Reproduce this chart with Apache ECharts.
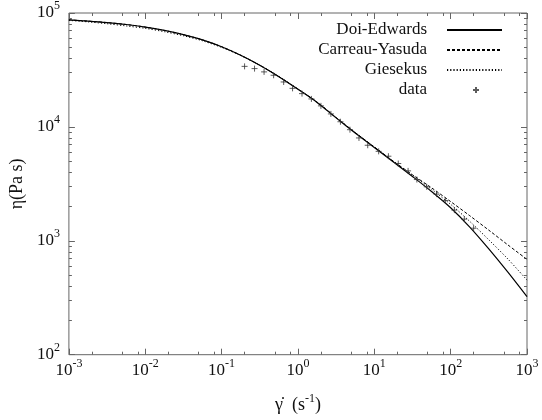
<!DOCTYPE html>
<html><head><meta charset="utf-8">
<script src="https://cdn.jsdelivr.net/npm/echarts@6/dist/echarts.min.js"></script>
<style>html,body{margin:0;padding:0;background:#fff}#c{width:542px;height:420px}</style>
</head><body><div id="c"></div>
<script>
// ---- tick labels ----
const xTickValues = [1e-3, 1e-2, 1e-1, 1, 10, 100, 1000];
const xTickExponents = ['-3', '-2', '-1', '0', '1', '2', '3'];
const yTickValues = [100, 1000, 10000, 100000];
const yTickExponents = ['2', '3', '4', '5'];
const xMinorMultipliers = [2, 5, 8];
const yMinorMultipliers = [2, 3, 4, 5, 6, 7, 8, 9];

// ---- series ----
const seriesNames = ['Doi-Edwards', 'Carreau-Yasuda', 'Giesekus', 'data'];

const curveX = [0.001, 0.00178, 0.00316, 0.00562, 0.01, 0.0178, 0.0316, 0.0562, 0.1, 0.178, 0.316, 0.562,
  1, 1.78, 3.16, 5.62, 10, 17.8, 31.6, 56.2, 100, 178, 316, 562, 1000];

const deY = [87100, 84900, 82400, 79300, 75300, 70300, 64600, 58100, 50600, 42600, 34800, 27600,
  21400, 16400, 12000, 8850, 6580, 4920, 3670, 2710, 1950, 1320, 849, 530, 323];

const cyY = [87100, 84900, 82400, 79300, 75300, 70300, 64600, 58100, 50600, 42600, 34800, 27700,
  21500, 16500, 12100, 8920, 6680, 5000, 3800, 2920, 2210, 1660, 1240, 920, 687];

const gkY = [86100, 83600, 80500, 77000, 73300, 68500, 63100, 57000, 49900, 42300, 34800, 27700,
  21500, 16500, 12100, 8920, 6660, 4970, 3780, 2830, 2090, 1480, 1020, 692, 452];

const dataX = [0.20, 0.27, 0.36, 0.48, 0.65, 0.85, 1.13, 1.5, 2.0, 2.7, 3.6, 4.8, 6.3, 8.2, 11.4,
  15.3, 20.6, 27.7, 36.1, 48.6, 65.3, 85.3, 112, 151, 200];
const dataY = [34000, 32500, 30400, 28400, 24800, 21800, 19600, 17600, 15300, 13000, 11100, 9450, 8000, 6900, 6100,
  5530, 4770, 4110, 3450, 2980, 2570, 2260, 1860, 1550, 1290];

// ---- helpers ----
const pairs = (xs, ys) => xs.map((x, i) => [x, ys[i]]);
const FONT = 'Liberation Serif';
const TXT = '#111';
const AX = '#666';

function expLabel(v, vals, exps) {
  for (let i = 0; i < vals.length; i++) {
    if (Math.abs(Math.log10(v) - Math.log10(vals[i])) < 1e-6) return '{b|10}{e|' + exps[i] + '}';
  }
  return '';
}
function minorValues(majors, mults) {
  const out = [];
  for (let i = 0; i < majors.length - 1; i++) mults.forEach(m => out.push(majors[i] * m));
  return out;
}
const rich = {
  b: { fontFamily: FONT, fontSize: 17, color: TXT, lineHeight: 26 },
  e: { fontFamily: FONT, fontSize: 12, color: TXT, lineHeight: 14, verticalAlign: 'top' }
};

function xAxisDef(position, major, showLabel) {
  return {
    type: 'log', logBase: 10, min: 1e-3, max: 1e3, position: position, gridIndex: 0,
    axisLine: { show: false }, splitLine: { show: false },
    axisTick: { show: true, inside: true, length: major ? 6 : 3, lineStyle: { color: AX, width: 1 },
      customValues: major ? xTickValues : minorValues(xTickValues, xMinorMultipliers) },
    axisLabel: showLabel ? { show: true, margin: 3, customValues: xTickValues,
      formatter: v => expLabel(v, xTickValues, xTickExponents), rich: rich } : { show: false }
  };
}
function yAxisDef(position, major, showLabel) {
  return {
    type: 'log', logBase: 10, min: 1e2, max: 1e5, position: position, gridIndex: 0,
    axisLine: { show: false }, splitLine: { show: false },
    axisTick: { show: true, inside: true, length: major ? 6 : 3, lineStyle: { color: AX, width: 1 },
      customValues: major ? yTickValues : minorValues(yTickValues, yMinorMultipliers) },
    axisLabel: showLabel ? { show: true, margin: 9, customValues: yTickValues,
      formatter: v => expLabel(v, yTickValues, yTickExponents), rich: rich } : { show: false }
  };
}

const xMain = xAxisDef('bottom', true, true);
xMain.name = '{a|γ̇  (s}{e|-1}{a|)}';
xMain.nameLocation = 'middle';
xMain.nameGap = 38;
xMain.nameTextStyle = { rich: {
  a: { fontFamily: FONT, fontSize: 18, color: TXT, lineHeight: 26 },
  e: { fontFamily: FONT, fontSize: 12, color: TXT, lineHeight: 14, verticalAlign: 'top' } } };

const yMain = yAxisDef('left', true, true);
yMain.name = 'η(Pa s)';
yMain.nameLocation = 'middle';
yMain.nameGap = 40;
yMain.nameTextStyle = { fontFamily: FONT, fontSize: 18, color: TXT };

const lineStyles = [
  { color: '#000', width: 1.2, type: 'solid' },
  { color: '#000', width: 1, type: [3, 2] },
  { color: '#000', width: 1, type: [1.2, 2] }
];
const plusPath = 'path://M0,5L10,5M5,0L5,10';

function legendDef(name, i) {
  const isData = name === 'data';
  return {
    data: [name], right: isData ? 62 : 39, top: 20 + i * 20, orient: 'vertical', align: 'right', padding: 0,
    itemWidth: isData ? 6 : 55, itemHeight: isData ? 6 : 14, selectedMode: false,
    itemStyle: isData ? {} : { opacity: 0, borderColor: 'rgba(0,0,0,0)' },
    textStyle: { fontFamily: FONT, fontSize: 17, color: TXT, padding: [0, isData ? 41 : 15, 0, 0], lineHeight: 20 }
  };
}

const option = {
  animation: false,
  backgroundColor: '#fff',
  grid: { left: 61, right: 15, top: 12.7, bottom: 65.3, show: true, borderColor: AX, borderWidth: 1, containLabel: false },
  legend: seriesNames.map(legendDef),
  xAxis: [xMain, xAxisDef('top', true, false), xAxisDef('bottom', false, false), xAxisDef('top', false, false)],
  yAxis: [yMain, yAxisDef('right', true, false), yAxisDef('left', false, false), yAxisDef('right', false, false)],
  series: [
    { name: seriesNames[0], type: 'line', data: pairs(curveX, deY), showSymbol: false, symbol: 'none', smooth: 0.3, lineStyle: lineStyles[0], itemStyle: { color: '#000' }, z: 3 },
    { name: seriesNames[1], type: 'line', data: pairs(curveX, cyY), showSymbol: false, symbol: 'none', smooth: 0.3, lineStyle: lineStyles[1], itemStyle: { color: '#000' }, z: 3 },
    { name: seriesNames[2], type: 'line', data: pairs(curveX, gkY), showSymbol: false, symbol: 'none', smooth: 0.3, lineStyle: lineStyles[2], itemStyle: { color: '#000' }, z: 3 },
    { name: seriesNames[3], type: 'scatter', data: pairs(dataX, dataY), symbol: plusPath, symbolSize: 6, symbolKeepAspect: true,
      itemStyle: { color: 'rgba(0,0,0,0)', borderColor: '#333', borderWidth: 1 }, z: 4 }
  ]
};

const chart = echarts.init(document.getElementById('c'), null, { renderer: 'canvas' });
chart.setOption(option);
</script>
</body></html>
